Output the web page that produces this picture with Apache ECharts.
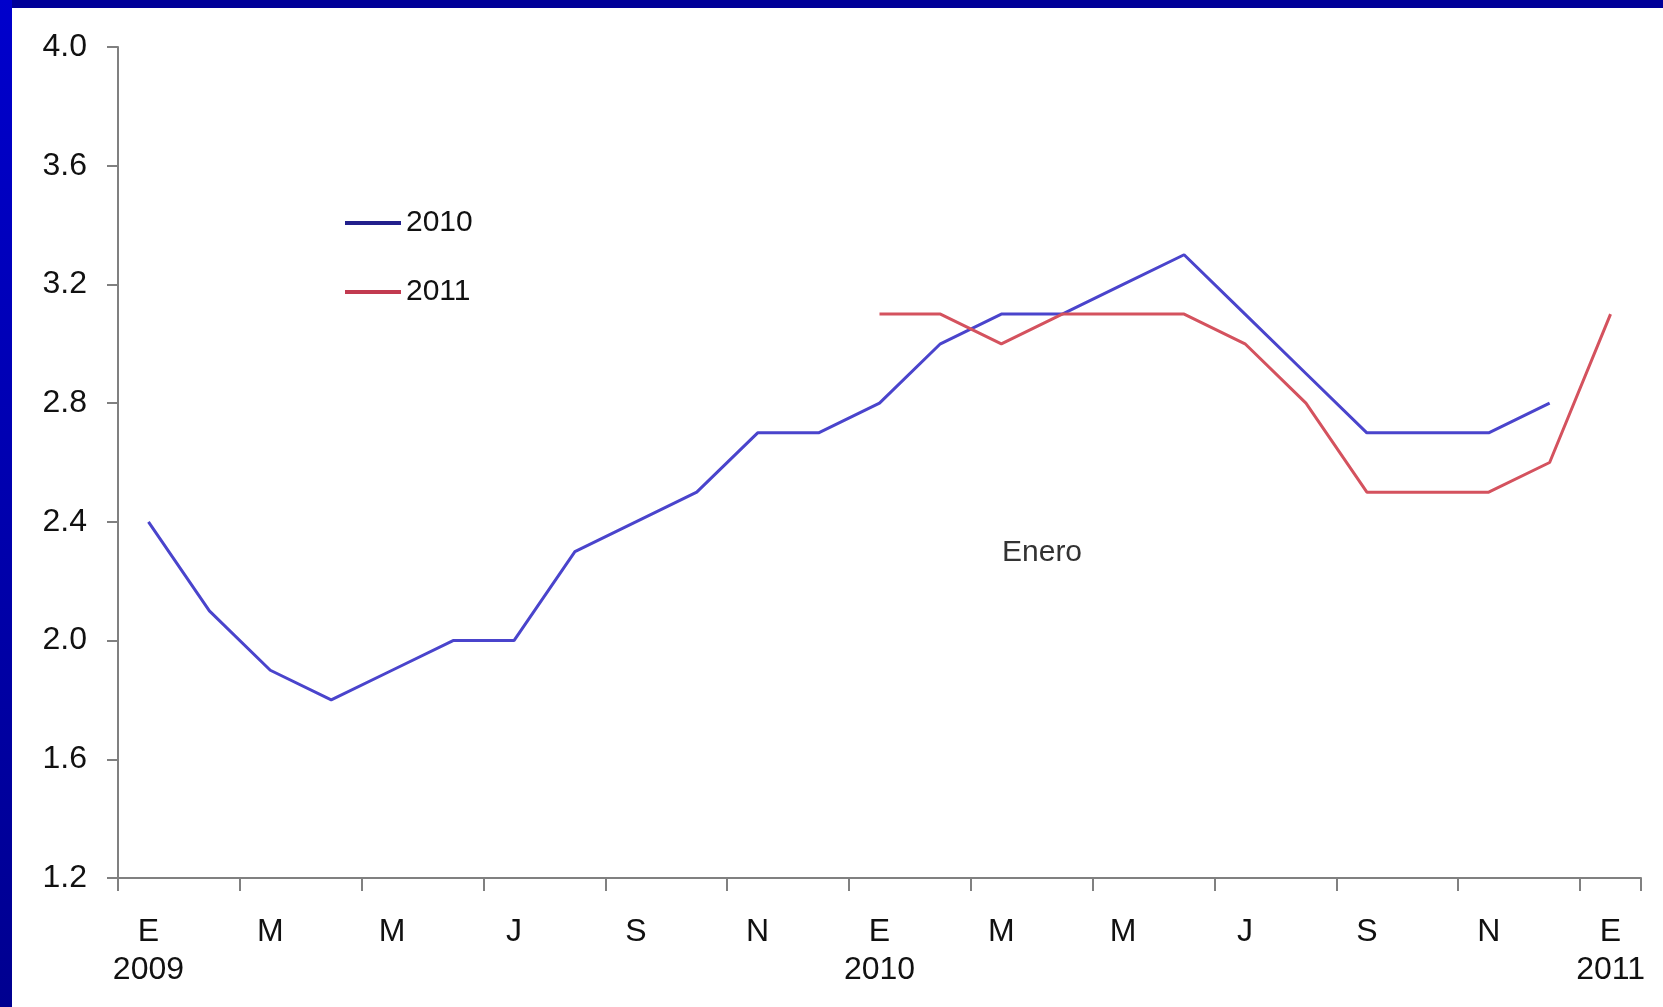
<!DOCTYPE html>
<html>
<head>
<meta charset="utf-8">
<script src="https://cdn.jsdelivr.net/npm/echarts@6/dist/echarts.min.js"></script>
<style>
  html, body { margin: 0; padding: 0; background: #ffffff; }
  #chart { position: absolute; left: 0; top: 0; width: 1663px; height: 1007px; }
  .band-top { position: absolute; left: 0; top: 0; width: 1663px; height: 8px; background: #000099; z-index: 2; }
  .band-left { position: absolute; left: 0; top: 0; width: 12px; height: 1007px; z-index: 2;
    background: linear-gradient(to bottom, #0000cc, #0000a8 60%, #000090); }
</style>
</head>
<body>
<div id="chart"></div>
<div class="band-top"></div>
<div class="band-left"></div>
<script>
// months E 2009 .. E 2011 (labels shown every second month)
const months = [
  'E\n2009', 'F', 'M', 'A', 'M', 'J', 'J', 'A', 'S', 'O', 'N', 'D',
  'E\n2010', 'F', 'M', 'A', 'M', 'J', 'J', 'A', 'S', 'O', 'N', 'D',
  'E\n2011'
]
const yTicks = [1.2, 1.6, 2.0, 2.4, 2.8, 3.2, 3.6, 4.0]

const serie2010 = [2.4, 2.1, 1.9, 1.8, 1.9, 2.0, 2.0, 2.3, 2.4, 2.5, 2.7, 2.7,
  2.8, 3.0, 3.1, 3.1, 3.2, 3.3, 3.1, 2.9, 2.7, 2.7, 2.7, 2.8, null]
const serie2011 = [null, null, null, null, null, null, null, null, null, null, null, null,
  3.1, 3.1, 3.0, 3.1, 3.1, 3.1, 3.0, 2.8, 2.5, 2.5, 2.5, 2.6, 3.1]

const font = "'Liberation Sans', Arial, sans-serif"
const chart = echarts.init(document.getElementById('chart'))

chart.setOption({
  animation: false,
  grid: { left: 118, top: 47, right: 22, bottom: 129 },
  legend: {
    orient: 'vertical',
    left: 340,
    top: 203,
    itemWidth: 56,
    itemHeight: 4,
    itemGap: 39,
    icon: 'rect',
    data: [
      { name: '2010', itemStyle: { color: '#22208c' } },
      { name: '2011', itemStyle: { color: '#c23a50' } },
    ],
    textStyle: { fontFamily: font, fontSize: 30, color: '#111' },
  },
  graphic: [
    {
      type: 'text',
      left: 1002,
      top: 538,
      style: { text: 'Enero', font: "30px 'Liberation Sans', Arial, sans-serif", fill: '#333' },
    },
  ],
  xAxis: {
    type: 'category',
    data: months,
    boundaryGap: true,
    axisLine: { lineStyle: { color: '#808080', width: 2 } },
    axisTick: { show: true, interval: 1, length: 13, lineStyle: { color: '#808080', width: 2 } },
    axisLabel: {
      interval: 1,
      margin: 35,
      fontFamily: font,
      fontSize: 32,
      lineHeight: 38,
      color: '#111',
    },
    splitLine: { show: false },
  },
  yAxis: {
    type: 'value',
    min: yTicks[0],
    max: yTicks[yTicks.length - 1],
    interval: 0.4,
    axisLine: { show: true, lineStyle: { color: '#808080', width: 2 } },
    axisTick: { show: true, length: 11, lineStyle: { color: '#808080', width: 2 } },
    axisLabel: {
      margin: 31,
      fontFamily: font,
      fontSize: 32,
      color: '#111',
      formatter: (v) => v.toFixed(1),
    },
    splitLine: { show: false },
  },
  series: [
    {
      name: '2010',
      type: 'line',
      data: serie2010,
      symbol: 'none',
      lineStyle: { color: '#4a44cc', width: 3 },
      itemStyle: { color: '#4a44cc' },
    },
    {
      name: '2011',
      type: 'line',
      data: serie2011,
      symbol: 'none',
      lineStyle: { color: '#d4525e', width: 3 },
      itemStyle: { color: '#d4525e' },
    },
  ],
})
</script>
</body>
</html>
